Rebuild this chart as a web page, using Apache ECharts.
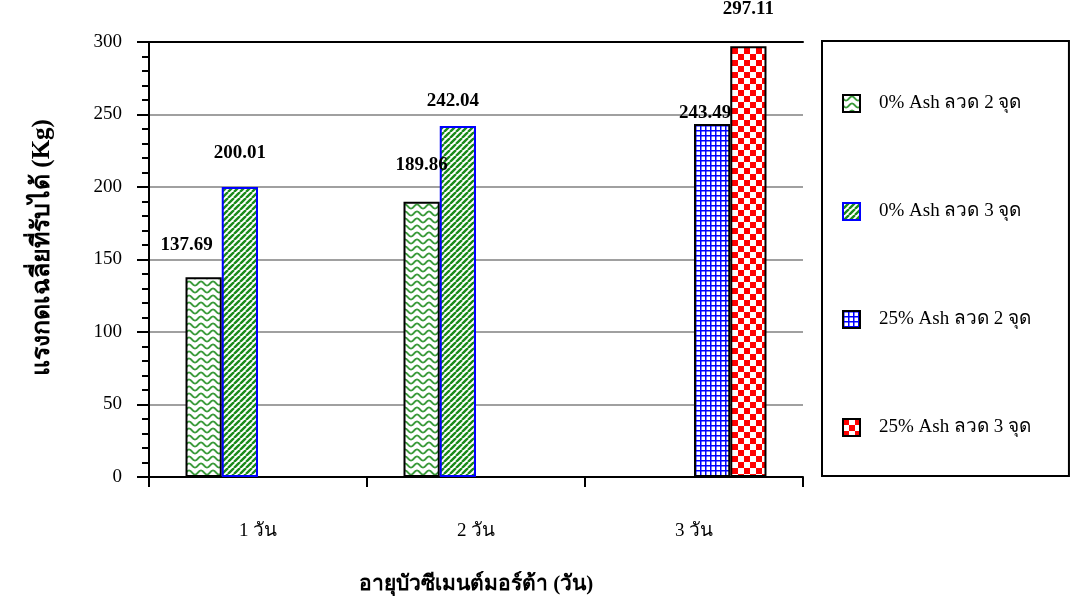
<!DOCTYPE html>
<html>
<head>
<meta charset="utf-8">
<script src="https://cdn.jsdelivr.net/npm/echarts@6/dist/echarts.min.js"></script>
<style>
html,body{margin:0;padding:0;background:#fff;}
#chart{width:1076px;height:605px;}
</style>
</head>
<body>
<div id="chart"></div>
<script>
// ---- data ----
var categories = ['1 วัน', '2 วัน', '3 วัน'];
var seriesNames = ['0% Ash ลวด 2 จุด', '0% Ash ลวด 3 จุด', '25% Ash ลวด 2 จุด', '25% Ash ลวด 3 จุด'];
var ash0wire2 = [137.69, 189.86, null];
var ash0wire3 = [200.01, 242.04, null];
var ash25wire2 = [null, null, 243.49];
var ash25wire3 = [null, null, 297.11];
var yTicks = [0, 50, 100, 150, 200, 250, 300];
var yAxisTitle = 'แรงกดเฉลี่ยที่รับได้ (Kg)';
var xAxisTitle = 'อายุบัวซีเมนต์มอร์ต้า (วัน)';

// label placement tweaks (style only): [dx, distance above bar]
var labelTweaks = [
  [[-17, 23], [0, 27], null],
  [[0, 24], [-5, 15], null],
  [null, null, [-7, 1]],
  [null, null, [0, 28]]
];

var FONT = '"Liberation Serif", "Times New Roman", "DejaVu Serif", serif';

// ---- patterns ----
function makeCanvas(w, h, draw) {
  var c = document.createElement('canvas');
  c.width = w; c.height = h;
  var ctx = c.getContext('2d');
  ctx.fillStyle = '#ffffff';
  ctx.fillRect(0, 0, w, h);
  draw(ctx, w, h);
  return c;
}
var wavePat = makeCanvas(12, 7, function (ctx, w, h) {
  ctx.strokeStyle = '#3a9a3a';
  ctx.lineWidth = 1.8;
  ctx.beginPath();
  for (var x = -1; x <= w + 1; x += 0.5) {
    var y = 3.5 + 2 * Math.sin(x / w * Math.PI * 2);
    if (x === -1) ctx.moveTo(x, y); else ctx.lineTo(x, y);
  }
  ctx.stroke();
});
var stripePat = makeCanvas(6, 6, function (ctx, w, h) {
  ctx.strokeStyle = '#1a8a1a';
  ctx.lineWidth = 2.4;
  ctx.beginPath();
  for (var k = -2; k <= 2; k++) {
    ctx.moveTo(k * w, h);
    ctx.lineTo(k * w + w, 0);
  }
  ctx.stroke();
});
var gridPat = makeCanvas(5, 5, function (ctx, w, h) {
  ctx.fillStyle = '#0000ff';
  ctx.fillRect(0, 0, w, 1.5);
  ctx.fillRect(0, 0, 1.5, h);
});
var checkPat = makeCanvas(12, 12, function (ctx, w, h) {
  ctx.fillStyle = '#ff0000';
  ctx.fillRect(0, 0, 6, 6);
  ctx.fillRect(6, 6, 6, 6);
});

var fills = [wavePat, stripePat, gridPat, checkPat];
var borders = ['#000000', '#0000ff', '#000000', '#000000'];
var seriesData = [ash0wire2, ash0wire3, ash25wire2, ash25wire3];

var series = seriesData.map(function (vals, si) {
  return {
    name: seriesNames[si],
    type: 'bar',
    barGap: '0%',
    barCategoryGap: '33.5%',
    itemStyle: {
      color: { image: fills[si], repeat: 'repeat' },
      borderColor: borders[si],
      borderWidth: 2
    },
    data: vals.map(function (v, ci) {
      var t = labelTweaks[si][ci];
      var item = { value: v };
      if (t) {
        item.label = { offset: [t[0], 0], distance: t[1] };
      }
      return item;
    }),
    label: {
      show: true,
      position: 'top',
      fontFamily: FONT,
      fontWeight: 'bold',
      fontSize: 19,
      color: '#000',
      formatter: function (p) { return p.value == null ? '' : p.value.toFixed(2); }
    }
  };
});

var chart = echarts.init(document.getElementById('chart'));
chart.setOption({
  animation: false,
  backgroundColor: '#ffffff',
  textStyle: { fontFamily: FONT },
  grid: { left: 149, right: 273, top: 42, bottom: 128 },
  legend: {
    orient: 'vertical',
    left: 822,
    top: 41,
    data: seriesNames.map(function (n) { return { name: n, icon: 'rect' }; }),
    itemWidth: 17,
    itemHeight: 17,
    itemGap: 89,
    padding: [53, 38, 39, 20],
    borderColor: '#000',
    borderWidth: 2,
    textStyle: { fontFamily: FONT, fontSize: 19, lineHeight: 17, color: '#000', padding: [0, 0, 0, 14] }
  },
  xAxis: [{
    type: 'category',
    data: categories,
    position: 'bottom',
    name: xAxisTitle,
    nameLocation: 'middle',
    nameGap: 97,
    nameTextStyle: { fontFamily: FONT, fontWeight: 'bold', fontSize: 21, color: '#000' },
    axisLine: { lineStyle: { color: '#000', width: 2 } },
    axisTick: { show: true, length: 10, lineStyle: { color: '#000', width: 2 } },
    axisLabel: { margin: 45, fontFamily: FONT, fontSize: 19, color: '#000' }
  }, {
    type: 'category',
    data: categories,
    position: 'top',
    axisLine: { lineStyle: { color: '#000', width: 2 } },
    axisTick: { show: false },
    axisLabel: { show: false }
  }],
  yAxis: {
    type: 'value',
    min: yTicks[0],
    max: yTicks[yTicks.length - 1],
    interval: 50,
    name: yAxisTitle,
    nameLocation: 'middle',
    nameGap: 94,
    nameRotate: 90,
    nameTextStyle: { fontFamily: FONT, fontWeight: 'bold', fontSize: 25, color: '#000', padding: [0, 0, 0, 24] },
    axisLine: { show: true, lineStyle: { color: '#000', width: 2 } },
    axisTick: { show: true, length: 12, lineStyle: { color: '#000', width: 2 } },
    minorTick: { show: true, splitNumber: 5, length: 7, lineStyle: { color: '#000', width: 2 } },
    axisLabel: { margin: 27, fontFamily: FONT, fontSize: 19, color: '#000' },
    splitLine: { show: true, lineStyle: { color: '#a0a0a0', width: 2 } }
  },
  series: series
});
</script>
</body>
</html>
